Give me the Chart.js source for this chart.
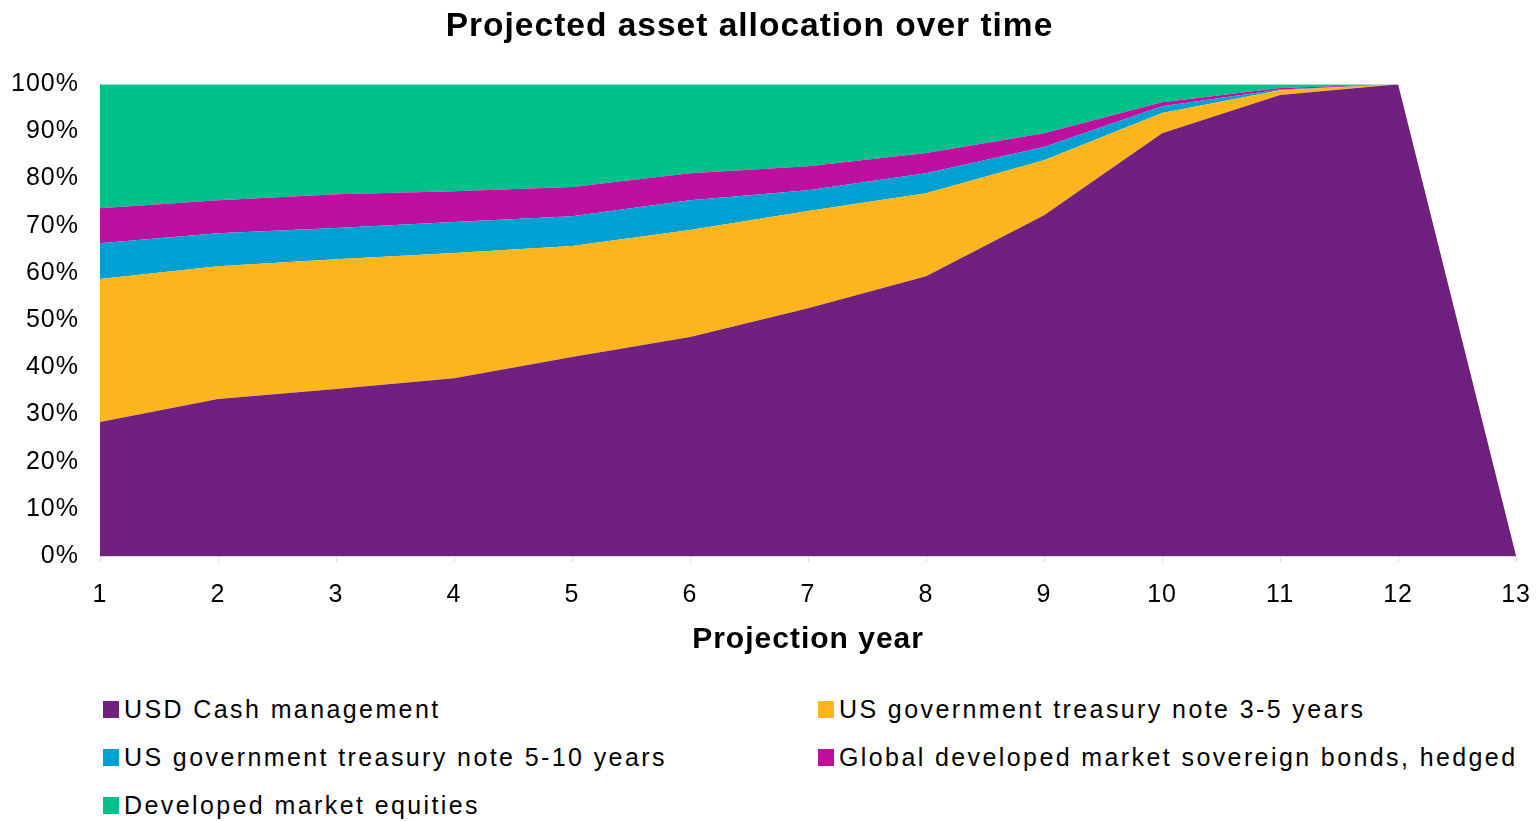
<!DOCTYPE html>
<html>
<head>
<meta charset="utf-8">
<script src="https://cdn.jsdelivr.net/npm/chart.js@4.4.1/dist/chart.umd.min.js"></script>
<style>
  html, body { margin: 0; padding: 0; background: #fff; overflow: hidden; }
  body { width: 1537px; height: 821px; position: relative; font-family: "Liberation Sans", Arial, sans-serif; }
  #wrap { position: absolute; left: -35px; top: 0; width: 1583px; height: 660px; }
  #legend { position: absolute; left: 0; top: 0; }
  .item { position: absolute; display: flex; align-items: center; font-size: 25px; color: #000; letter-spacing: 2.4px; white-space: nowrap; }
  .item i { display: inline-block; width: 16px; height: 17px; margin-right: 5px; }
</style>
</head>
<body>
<div id="wrap"><canvas id="allocationChart" width="1583" height="660"></canvas></div>
<div id="legend"></div>
<script>
const years = [`1`, `2`, `3`, `4`, `5`, `6`, `7`, `8`, `9`, `10`, `11`, `12`, `13`]

const seriesNames = [
  `USD Cash management`,
  `US government treasury note 3-5 years`,
  `US government treasury note 5-10 years`,
  `Global developed market sovereign bonds, hedged`,
  `Developed market equities`,
]
const seriesColors = [`#70207e`, `#fdb51e`, `#00a1d2`, `#be109e`, `#00c18a`]

// share of portfolio in %, one value per projection year
const cash = [28.4, 33.3, 35.4, 37.7, 42.2, 46.4, 52.5, 59.3, 72.2, 89.6, 97.7, 100, 0]
const treasury35 = [30.3, 28.1, 27.5, 26.5, 23.5, 22.7, 20.6, 17.6, 11.7, 4.3, 1.0, 0, 0]
const treasury510 = [7.6, 7.0, 6.6, 6.6, 6.3, 6.3, 4.4, 4.2, 2.8, 1.4, 0.2, 0, 0]
const sovereign = [7.4, 7.0, 7.2, 6.5, 6.2, 5.7, 5.1, 4.3, 2.9, 0.9, 0.3, 0, 0]
const equities = [26.3, 24.6, 23.3, 22.7, 21.8, 18.9, 17.4, 14.6, 10.4, 3.8, 0.8, 0, 0]

const yTicks = [0, 10, 20, 30, 40, 50, 60, 70, 80, 90, 100]

const seriesValues = [cash, treasury35, treasury510, sovereign, equities]
const font = `"Liberation Sans", Arial, sans-serif`

// the original text is drawn a bit wider than Arial, so space the canvas text out
const wideText = {
  id: `wideText`,
  beforeDraw: (chart) => { chart.ctx.letterSpacing = `1px` },
}

const data = {
  labels: years,
  datasets: seriesNames.map((name, i) => ({
    label: name,
    data: seriesValues[i],
    backgroundColor: seriesColors[i],
    borderWidth: 0,
    pointRadius: 0,
    tension: 0,
    fill: i === 0 ? `origin` : `-1`,
  })),
}

const config = {
  type: `line`,
  data,
  plugins: [wideText],
  options: {
    responsive: false,
    animation: false,
    layout: { padding: { left: 0, right: 14, top: 0, bottom: 0 } },
    scales: {
      x: {
        grid: { drawOnChartArea: false, color: `#d9d9d9`, tickLength: 6 },
        border: { color: `#d9d9d9` },
        ticks: { color: `#000`, padding: 18, maxRotation: 0, font: { family: font, size: 25 } },
        title: {
          display: true,
          text: `Projection year`,
          color: `#000`,
          padding: { top: 4, bottom: 2 },
          font: { family: font, size: 30, weight: `bold` },
        },
        afterFit: (scale) => { scale.height = 104 },
      },
      y: {
        stacked: true,
        min: 0,
        max: 100,
        grid: { display: false, drawTicks: false },
        border: { display: true, color: `#d9d9d9` },
        afterBuildTicks: (scale) => { scale.ticks = yTicks.map((v) => ({ value: v })) },
        ticks: {
          color: `#000`,
          padding: 21,
          font: { family: font, size: 25 },
          callback: (v) => v + `%`,
        },
        afterFit: (scale) => { scale.width = 135 },
      },
    },
    plugins: {
      legend: { display: false },
      tooltip: { enabled: false },
      title: {
        display: true,
        text: `Projected asset allocation over time`,
        color: `#000`,
        padding: { top: 7, bottom: 37 },
        font: { family: font, size: 33.5, weight: `bold` },
      },
    },
  },
}

new Chart(document.querySelector(`#allocationChart`), config)

// legend laid out in two columns like the original
const legend = document.querySelector(`#legend`)
seriesNames.forEach((name, i) => {
  const el = document.createElement(`div`)
  el.className = `item`
  el.style.left = (i % 2 === 0 ? 103 : 818) + `px`
  el.style.top = 695 + Math.floor(i / 2) * 48 + `px`
  el.innerHTML = `<i style="background:${seriesColors[i]}"></i>`
  el.append(name)
  legend.append(el)
})
</script>
</body>
</html>
